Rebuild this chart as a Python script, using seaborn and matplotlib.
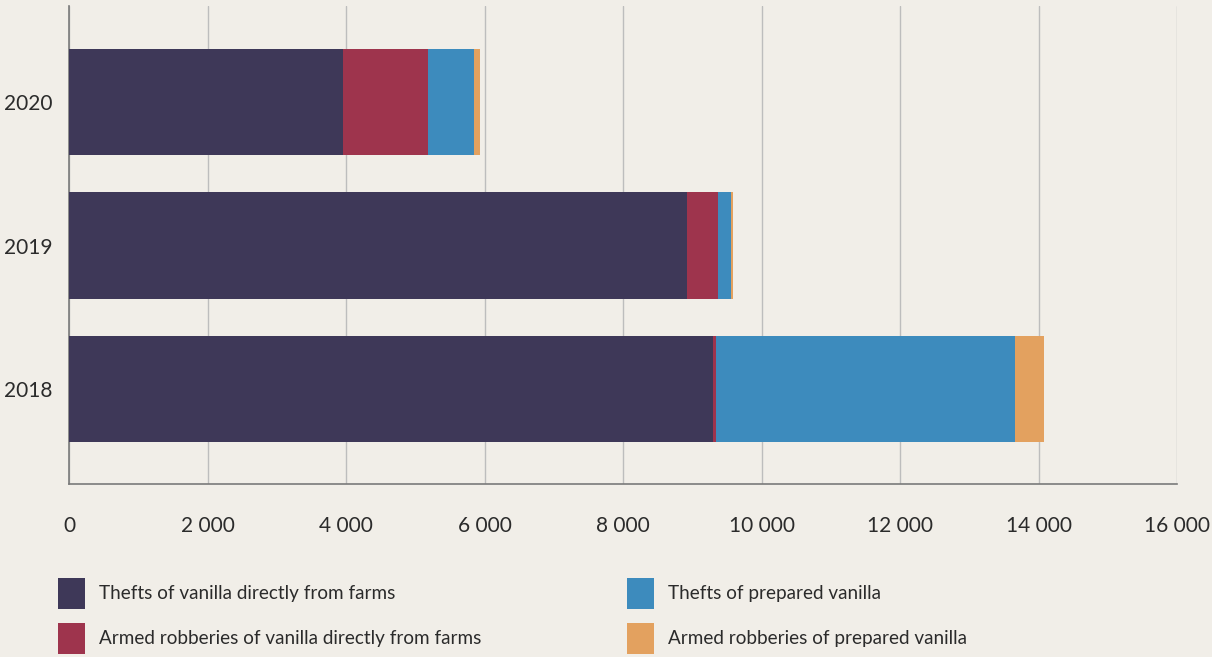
import numpy as np
import matplotlib
matplotlib.use("Agg")
import matplotlib.pyplot as plt
import matplotlib.ticker as mticker
from matplotlib.patches import Patch
import pandas as pd
import seaborn as sns

# data
years = ["2020", "2019", "2018"]
thefts_farms = [3960, 8930, 9300]
armed_farms = [1220, 445, 45]
thefts_prepared = [665, 185, 4315]
armed_prepared = [85, 30, 425]

labels = ["Thefts of vanilla directly from farms",
          "Armed robberies of vanilla directly from farms",
          "Thefts of prepared vanilla",
          "Armed robberies of prepared vanilla"]
colors = ["#3e3858", "#9e344d", "#3d8bbd", "#e3a15f"]

bg = "#f1eee8"
sns.set_theme(style="white")
plt.rcParams["font.family"] = ["Lato", "DejaVu Sans"]
plt.rcParams["text.color"] = "#2b2b2b"

df = pd.DataFrame({"year": years, "l1": thefts_farms, "l2": armed_farms,
                   "l3": thefts_prepared, "l4": armed_prepared})
cum = df[["l1", "l2", "l3", "l4"]].cumsum(axis=1)

fig = plt.figure(figsize=(12.12, 6.57), dpi=100, facecolor=bg)
ax = fig.add_axes([69/1212, 1 - 484.3/657, (1177-69)/1212, (484.3-6)/657])
ax.set_facecolor(bg)

# stacked bars: draw the longest cumulative first
for col, c in zip(["l4", "l3", "l2", "l1"], colors[::-1]):
    sns.barplot(x=cum[col], y=df["year"], order=years, color=c, width=0.74,
                orient="h", ax=ax, zorder=3, linewidth=0, saturation=1)

ax.set_xlim(0, 16000)
ax.set_ylim(2.665, -0.67)
ax.xaxis.set_major_locator(mticker.MultipleLocator(2000))
ax.xaxis.set_major_formatter(mticker.FuncFormatter(lambda v, p: f"{int(v):,}".replace(",", " ")))
ax.grid(axis="x", color="#bdbdbd", linewidth=1, zorder=0)
ax.set_axisbelow(True)
ax.set_xlabel("")
ax.set_ylabel("")

for s in ["top", "right"]:
    ax.spines[s].set_visible(False)
ax.spines["bottom"].set_color("#7a7a7a")
ax.spines["left"].set_color("#7a7a7a")
ax.spines["bottom"].set_linewidth(1.2)
ax.spines["left"].set_linewidth(1.2)

ax.tick_params(axis="x", length=11.5, width=1, color="#bdbdbd", pad=11,
               labelsize=15, labelcolor="#2b2b2b")
ax.tick_params(axis="y", length=0, pad=12, labelsize=15, labelcolor="#2b2b2b")

handles = [Patch(facecolor=c, edgecolor="none") for c in colors]
fig.legend(handles, labels, ncol=2, loc="upper left",
           bbox_to_anchor=(58/1212, 1 - 578/657), frameon=False,
           fontsize=13.6, handlelength=1.43, handleheight=2.15,
           handletextpad=0.74, labelspacing=0.74, columnspacing=7.7,
           borderpad=0, borderaxespad=0)

fig.savefig("out.png", dpi=100, facecolor=bg)
